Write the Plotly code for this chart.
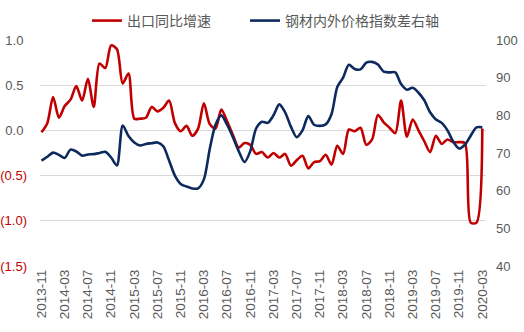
import pandas as pd
import plotly.graph_objects as go

# Monthly observations, 2013-11 .. 2020-03
months = pd.date_range("2013-11-01", "2020-03-01", freq="MS").strftime("%Y-%m").tolist()

export_yoy = [
    -0.02, 0.08, 0.37, 0.14, 0.27, 0.34, 0.49, 0.33, 0.57, 0.26,
    0.74, 0.69, 0.94, 0.90, 0.52, 0.63, 0.13, 0.13, 0.14, 0.26,
    0.21, 0.25, 0.33, 0.08, -0.01, 0.05, -0.06, 0.02, 0.30, 0.07,
    0.02, 0.23, 0.10, -0.05, -0.19, -0.14, -0.16, -0.26, -0.24, -0.30,
    -0.25, -0.30, -0.26, -0.39, -0.33, -0.28, -0.42, -0.35, -0.34, -0.27,
    -0.38, -0.17, -0.26, 0.01, -0.01, 0.03, -0.16, -0.10, 0.17, 0.09,
    0.03, -0.03, 0.33, -0.07, 0.12, 0.00, -0.12, -0.24, -0.06, -0.15,
    -0.10, -0.13, -0.13, -0.14, -1.02, -1.02, 0.02,
]

steel_spread = [
    68.0, 69.0, 70.1, 69.5, 68.7, 70.9, 70.4, 69.3, 69.6, 69.7,
    70.0, 70.3, 68.8, 66.7, 77.3, 74.5, 72.8, 72.0, 72.4, 72.6,
    72.8, 71.8, 68.0, 64.0, 61.8, 61.1, 60.6, 60.6, 63.0, 71.0,
    77.5, 80.0, 77.5, 74.2, 70.5, 67.6, 70.5, 76.5, 78.3, 78.0,
    80.0, 82.9, 80.8, 77.0, 74.2, 76.0, 79.8, 77.5, 77.2, 77.6,
    80.3, 87.5, 90.0, 93.4, 92.3, 92.2, 94.0, 94.2, 93.5, 91.6,
    91.4, 91.4, 88.3, 86.8, 87.3, 86.0, 84.0, 80.8, 78.9, 78.0,
    76.0, 73.0, 71.2, 72.2, 74.6, 76.8, 76.8,
]

left_tick_vals = [1.0, 0.5, 0.0, -0.5, -1.0, -1.5]
left_tick_text = ["1.0", "0.5", "0.0", "(0.5)", "(1.0)", "(1.5)"]
right_tick_vals = [40, 50, 60, 70, 80, 90, 100]

RED = "#C00000"
NAVY = "#0D2A5E"
GREY = "#595959"

idx = list(range(len(months)))
x_tick_idx = idx[::4]
x_tick_text = months[::4]

# negative labels on the left axis are shown in red; positive ones get a
# trailing pad so the digits line up with the bracketed values
left_text = [
    f"<span style='color:{RED}'>{t}</span>" if v < 0 else t + "\u2008"
    for v, t in zip(left_tick_vals, left_tick_text)
]

fig = go.Figure()
fig.add_trace(go.Scatter(
    x=idx, y=export_yoy, name="出口同比增速", mode="lines",
    legend="legend",
    line=dict(color=RED, width=2.6, shape="spline", smoothing=0.8),
))
fig.add_trace(go.Scatter(
    x=idx, y=steel_spread, name="钢材内外价格指数差右轴", mode="lines",
    yaxis="y2", legend="legend2",
    line=dict(color=NAVY, width=2.6, shape="spline", smoothing=0.8),
))

font_family = "Liberation Sans, Noto Sans CJK SC, sans-serif"
legend_font = dict(size=14, color=GREY, family="Noto Sans CJK SC, sans-serif")

fig.update_layout(
    width=524, height=332,
    margin=dict(l=40, r=38, t=40, b=66, autoexpand=False),
    paper_bgcolor="white", plot_bgcolor="white",
    font=dict(family=font_family, size=13, color=GREY),
    showlegend=True,
    legend=dict(
        orientation="h", x=87 / 524, xref="container", xanchor="left",
        y=0.985, yref="container", yanchor="top",
        font=legend_font, bgcolor="rgba(0,0,0,0)", itemwidth=30,
    ),
    legend2=dict(
        orientation="h", x=245 / 524, xref="container", xanchor="left",
        y=0.985, yref="container", yanchor="top",
        font=legend_font, bgcolor="rgba(0,0,0,0)", itemwidth=30,
    ),
    xaxis=dict(
        range=[-0.26, 76.64], tickmode="array", tickvals=x_tick_idx,
        ticktext=x_tick_text, tickangle=-90, showgrid=False, zeroline=False,
        showline=False, ticks="", tickfont=dict(size=13.5, color=GREY),
    ),
    yaxis=dict(
        range=[-1.5, 1.0], tickmode="array", tickvals=left_tick_vals,
        ticktext=left_text, showgrid=True, gridcolor="#D9D9D9", gridwidth=1,
        zeroline=False, showline=False, ticks="", ticklabelstandoff=12,
        tickfont=dict(size=13, color=GREY),
    ),
    yaxis2=dict(
        range=[40, 100], overlaying="y", side="right", tickmode="array",
        tickvals=right_tick_vals, showgrid=False, zeroline=False,
        showline=False, ticks="", ticklabelstandoff=9,
        tickfont=dict(size=13, color=GREY),
    ),
)

fig.write_html("out.html")
